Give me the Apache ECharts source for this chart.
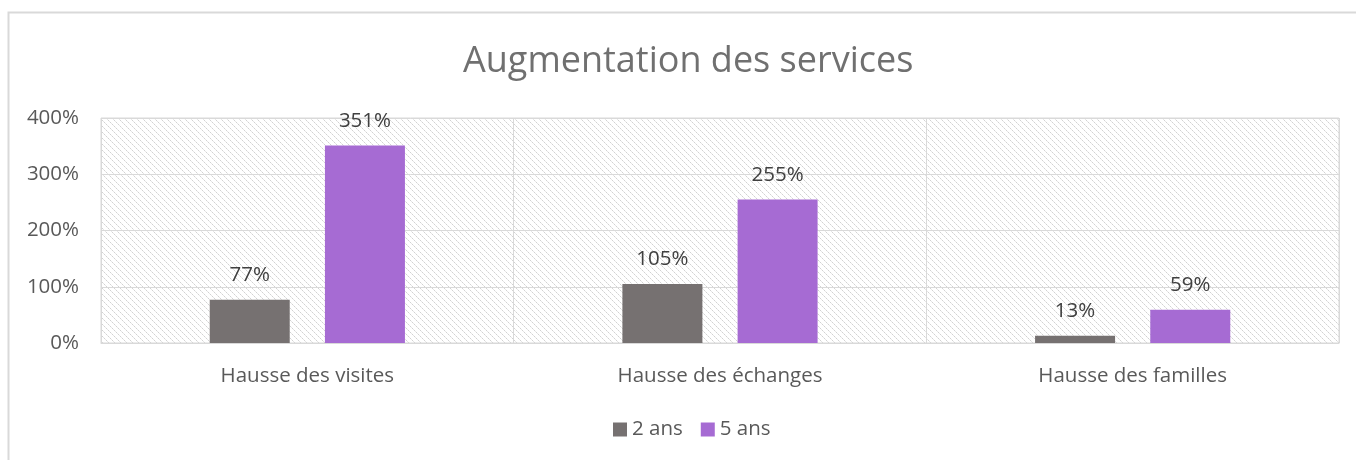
<!DOCTYPE html>
<html>
<head>
<meta charset="utf-8">
<script src="https://cdn.jsdelivr.net/npm/echarts@6/dist/echarts.min.js"></script>
<style>
  html, body { margin: 0; padding: 0; background: #fff; }
  #chart { width: 1356px; height: 460px; }
</style>
</head>
<body>
<div id="chart"></div>
<script>
// chart data
var categories = ['Hausse des visites', 'Hausse des échanges', 'Hausse des familles'];
var seriesNames = ['2 ans', '5 ans'];
var values2ans = [77, 105, 13];
var values5ans = [351, 255, 59];

// hatched background for plot area (downward diagonal)
function makeHatch() {
    var c = document.createElement('canvas');
    c.width = 6;
    c.height = 6;
    var ctx = c.getContext('2d');
    ctx.fillStyle = '#ffffff';
    ctx.fillRect(0, 0, 6, 6);
    for (var i = 0; i < 6; i++) {
        ctx.fillStyle = (i % 2 === 0) ? '#d2d2d2' : '#e6e6e6';
        ctx.fillRect(i, i, 1, 1);
    }
    return c;
}

var dom = document.getElementById('chart');
var myChart = echarts.init(dom);
var fontFam = 'Open Sans';
var fs = 20.5;

var option = {
    animation: false,
    textStyle: { fontFamily: fontFam },
    title: {
        text: 'Augmentation des services',
        left: 458,
        top: 39,
        textStyle: { fontSize: 36, fontWeight: 'normal', color: '#707070', fontFamily: fontFam }
    },
    graphic: [{
        type: 'rect',
        shape: { x: 8.5, y: 12.5, width: 1400, height: 500 },
        style: { fill: 'none', stroke: '#d9d9d9', lineWidth: 2 },
        silent: true
    }],
    legend: {
        bottom: 15,
        left: 608,
        itemWidth: 14,
        itemHeight: 14,
        itemGap: 18,
        icon: 'rect',
        textStyle: { fontSize: fs, color: '#595959' },
        data: seriesNames
    },
    grid: {
        left: 101,
        right: 17,
        top: 118,
        bottom: 117,
        show: true,
        borderColor: '#d9d9d9',
        borderWidth: 1,
        backgroundColor: { image: makeHatch(), repeat: 'repeat' }
    },
    xAxis: {
        type: 'category',
        data: categories,
        axisLine: { show: true, lineStyle: { color: '#d9d9d9', width: 1 } },
        axisTick: { show: false },
        splitLine: { show: true, lineStyle: { color: '#d9d9d9', width: 1 } },
        axisLabel: { fontSize: fs, color: '#595959', margin: 23 }
    },
    yAxis: {
        type: 'value',
        min: 0,
        max: 400,
        interval: 100,
        axisLine: { show: false },
        axisTick: { show: false },
        splitLine: { lineStyle: { color: '#d9d9d9', width: 1 } },
        axisLabel: { fontSize: fs, color: '#595959', margin: 22, formatter: '{value}%' }
    },
    series: [
        {
            name: seriesNames[0],
            type: 'bar',
            data: values2ans,
            barWidth: 80,
            barGap: '44%',
            itemStyle: { color: '#767171' },
            label: { show: true, position: 'top', distance: 14, fontSize: fs, color: '#404040', formatter: '{c}%' }
        },
        {
            name: seriesNames[1],
            type: 'bar',
            data: values5ans,
            barWidth: 80,
            itemStyle: { color: '#a66bd3' },
            label: { show: true, position: 'top', distance: 14, fontSize: fs, color: '#404040', formatter: '{c}%' }
        }
    ]
};

if (option && typeof option === 'object') {
    myChart.setOption(option);
}
</script>
</body>
</html>
